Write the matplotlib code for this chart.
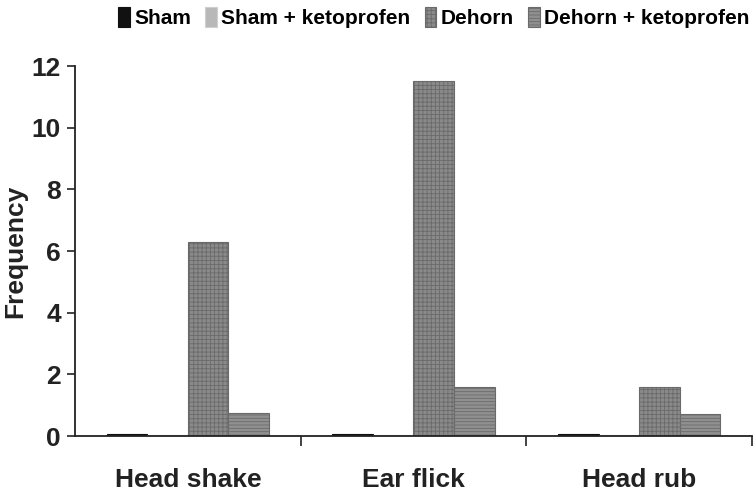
import matplotlib
matplotlib.use('Agg')
import matplotlib.pyplot as plt
import numpy as np

plt.rcParams['font.family'] = ['Liberation Sans', 'DejaVu Sans']
plt.rcParams['font.weight'] = 'bold'
plt.rcParams['hatch.linewidth'] = 0.6

# data
categories = ['Head shake', 'Ear flick', 'Head rub']
series = ['Sham', 'Sham + ketoprofen', 'Dehorn', 'Dehorn + ketoprofen']
sham = [0.05, 0.05, 0.05]
sham_keto = [0.02, 0.02, 0.02]
dehorn = [6.3, 11.5, 1.6]
dehorn_keto = [0.75, 1.6, 0.7]

values = [sham, sham_keto, dehorn, dehorn_keto]
faces = ['#111111', '#b8b8b8', '#8a8a8a', '#909090']
edges = ['#111111', '#cfcfcf', '#6a6a6a', '#6a6a6a']
hatches = [None, None, '++++', '-----']

fig = plt.figure(figsize=(7.53, 4.93), dpi=100)
ax = fig.add_axes([0.0996, 0.1156, 0.899, 0.7505])

x = np.arange(len(categories))
width = 0.18
for i, vals in enumerate(values):
    offs = (i - 1.5) * width
    ax.bar(x + offs, vals, width, color=faces[i], edgecolor=edges[i],
           hatch=hatches[i], linewidth=0.8, label=series[i])

ax.set_xlim(-0.5, 2.5)
ax.set_ylim(0, 12)
ax.set_yticks(range(0, 13, 2))
ax.set_yticklabels([str(v) for v in range(0, 13, 2)], fontsize=19, fontweight='bold')

# category labels at centres, ticks at boundaries
ax.set_xticks([0.5, 1.5, 2.5])
ax.set_xticklabels([])
for xi, name in zip(x, categories):
    ax.text(xi, -1.05, name, ha='center', va='top', fontsize=19,
            fontweight='bold', color='#222222')

ax.tick_params(axis='x', direction='out', length=7, width=1.2, color='#222222')
ax.tick_params(axis='y', direction='out', length=6, width=1.2, color='#222222',
               pad=4, labelcolor='#222222')

for s in ['top', 'right']:
    ax.spines[s].set_visible(False)
for s in ['left', 'bottom']:
    ax.spines[s].set_linewidth(1.3)
    ax.spines[s].set_color('#222222')

ax.set_ylabel('Frequency', fontsize=19, fontweight='bold', color='#222222', labelpad=3)

ax.legend(loc='center', bbox_to_anchor=(0.53, 1.13), ncol=4, frameon=False,
          prop={'size': 15, 'weight': 'bold'}, handlelength=0.55, handleheight=1.1,
          handletextpad=0.2, columnspacing=0.7, borderaxespad=0)

plt.savefig('out.png', dpi=100)
